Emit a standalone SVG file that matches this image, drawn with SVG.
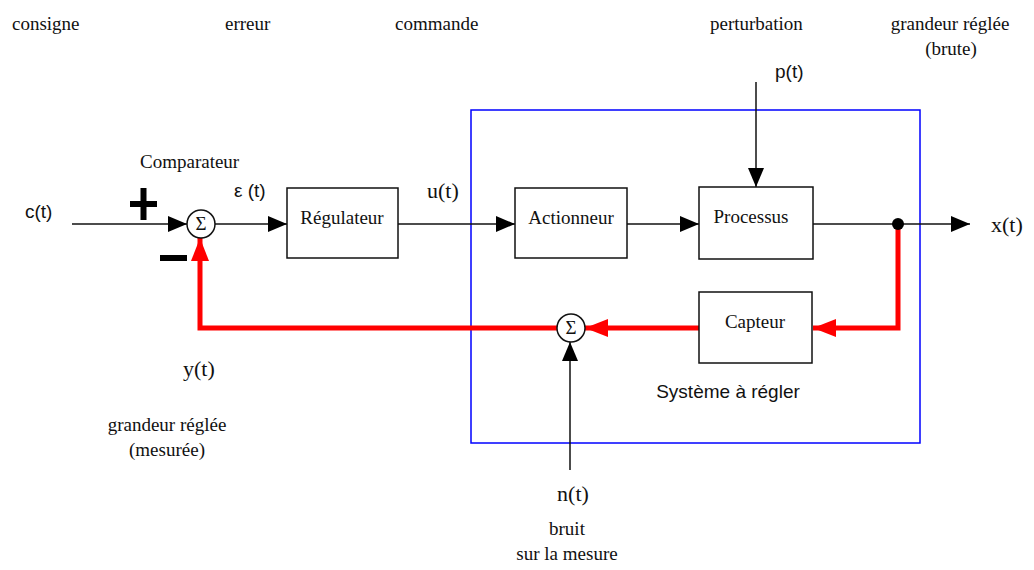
<svg xmlns="http://www.w3.org/2000/svg" width="1034" height="570" viewBox="0 0 1034 570">
<style>
.serif{font-family:"Liberation Serif","Times New Roman",serif;font-size:19px;fill:#111}
.var{font-family:"Liberation Serif","Times New Roman",serif;font-size:22px;fill:#111}
.sans{font-family:"Liberation Sans",Arial,sans-serif;font-size:19px;fill:#111}
.box{fill:#fff;stroke:#111;stroke-width:1.5}
.ln{fill:none;stroke:#111;stroke-width:1.5}
.red{fill:none;stroke:#f00;stroke-width:5}
.sum{fill:#fff;stroke:#111;stroke-width:1.5}
</style>
<defs>
<marker id="ab" markerUnits="userSpaceOnUse" markerWidth="20" markerHeight="18" refX="19" refY="8" orient="auto" viewBox="0 0 20 18">
<path d="M0,0 L19,8 L0,16 z" fill="#000"/>
</marker>
<marker id="ar" markerUnits="userSpaceOnUse" markerWidth="24" markerHeight="20" refX="23" refY="9" orient="auto" viewBox="0 0 24 20">
<path d="M0,0 L23,9 L0,18 z" fill="#f00"/>
</marker>
</defs>
<rect width="1034" height="570" fill="#fff"/>
<g id="labels">
<text class="serif" x="12" y="30">consigne</text>
<text class="serif" x="225" y="30">erreur</text>
<text class="serif" x="395" y="30">commande</text>
<text class="serif" x="710" y="30">perturbation</text>
<text class="serif" x="950" y="30" text-anchor="middle">grandeur réglée</text>
<text class="serif" x="951" y="55" text-anchor="middle">(brute)</text>
<text class="sans" x="25" y="218">c(t)</text>
<text class="serif" x="140" y="168">Comparateur</text>
<text class="sans" x="234" y="197">ε (t)</text>
<text class="var" x="427" y="198">u(t)</text>
<text class="sans" x="775" y="78">p(t)</text>
<text class="var" x="991" y="232">x(t)</text>
<text class="var" x="183" y="376">y(t)</text>
<text class="serif" x="167" y="431" text-anchor="middle">grandeur réglée</text>
<text class="serif" x="167" y="456" text-anchor="middle">(mesurée)</text>
<text class="sans" x="728" y="398" text-anchor="middle">Système à régler</text>
<text class="var" x="573" y="501" text-anchor="middle">n(t)</text>
<text class="serif" x="567" y="535" text-anchor="middle">bruit</text>
<text class="serif" x="567" y="560" text-anchor="middle">sur la mesure</text>
</g>
<rect id="systeme" x="471" y="110" width="449" height="333" fill="none" stroke="#00f" stroke-width="1.5"/>
<g id="connectors">
<line class="ln" x1="72" y1="224" x2="187" y2="224" marker-end="url(#ab)"/>
<line class="ln" x1="215" y1="224" x2="287" y2="224" marker-end="url(#ab)"/>
<line class="ln" x1="398" y1="224" x2="515" y2="224" marker-end="url(#ab)"/>
<line class="ln" x1="627" y1="224" x2="699" y2="224" marker-end="url(#ab)"/>
<line class="ln" x1="756" y1="82" x2="756" y2="187" marker-end="url(#ab)"/>
<line class="ln" x1="813" y1="224" x2="970" y2="224" marker-end="url(#ab)"/>
<path class="red" d="M898,224 V328 H813" marker-end="url(#ar)"/>
<line class="red" x1="699" y1="328" x2="585" y2="328" marker-end="url(#ar)"/>
<path class="red" d="M557,328 H200 V238" marker-end="url(#ar)"/>
<line class="ln" x1="570" y1="470" x2="570" y2="342" marker-end="url(#ab)"/>
<circle cx="898" cy="224" r="6" fill="#000"/>
</g>
<g id="comparateur">
<circle class="sum" cx="201" cy="224" r="14"/>
<text class="serif" x="201" y="230" text-anchor="middle" font-size="17">Σ</text>
<rect x="130" y="201" width="27" height="6" fill="#000"/>
<rect x="140.5" y="188" width="6" height="32" fill="#000"/>
<rect x="160" y="255" width="27" height="6" fill="#000"/>
</g>
<g id="regulateur">
<rect class="box" x="287" y="188" width="111" height="70"/>
<text class="serif" x="342" y="224" text-anchor="middle">Régulateur</text>
</g>
<g id="actionneur">
<rect class="box" x="515" y="188" width="112" height="70"/>
<text class="serif" x="571" y="224" text-anchor="middle">Actionneur</text>
</g>
<g id="processus">
<rect class="box" x="699" y="187" width="114" height="72"/>
<text class="serif" x="751" y="223" text-anchor="middle">Processus</text>
</g>
<g id="capteur">
<rect class="box" x="699" y="292" width="113" height="71"/>
<text class="serif" x="755" y="328" text-anchor="middle">Capteur</text>
</g>
<g id="sommateur-bruit">
<circle class="sum" cx="571" cy="328" r="14"/>
<text class="serif" x="571" y="334" text-anchor="middle" font-size="17">Σ</text>
</g>
</svg>
